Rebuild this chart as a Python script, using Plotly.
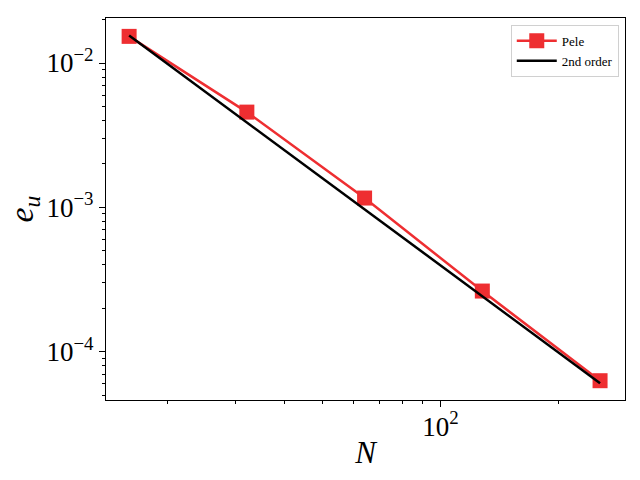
import plotly.graph_objects as go

# Grid resolution and errors
n_points = [16, 32, 64, 128, 256]
pele_err = [1.53e-2, 4.57e-3, 1.16e-3, 2.63e-4, 6.29e-5]
second_order = [1.55e-2, 3.875e-3, 9.69e-4, 2.42e-4, 6.05e-5]

x_tickvals = [100]
x_ticktext = ["10<sup>2</sup>"]
y_tickvals = [1e-2, 1e-3, 1e-4]
y_ticktext = ["10<sup>\u22122</sup>", "10<sup>\u22123</sup>", "10<sup>\u22124</sup>"]

RED = "#ee2e31"
FONT = "Liberation Serif"


def main():
    fig = go.Figure()

    fig.add_trace(go.Scatter(
        x=n_points, y=pele_err,
        mode="lines+markers",
        name="Pele",
        line=dict(color=RED, width=2.5),
        marker=dict(symbol="square", size=15, color=RED),
    ))
    fig.add_trace(go.Scatter(
        x=n_points, y=second_order,
        mode="lines",
        name="2nd order",
        line=dict(color="black", width=2.5),
    ))

    axis_common = dict(
        type="log",
        showline=True, linecolor="black", linewidth=1.2, mirror=True,
        ticks="outside", ticklen=6, tickwidth=1, tickcolor="black",
        showgrid=False, zeroline=False,
        tickfont=dict(family=FONT, size=27, color="black"),
        minor=dict(ticks="outside", ticklen=3, tickwidth=0.8, tickcolor="black",
                   dtick="D1", showgrid=False),
    )

    fig.update_layout(
        width=640, height=480,
        margin=dict(l=106, r=15, t=18, b=80),
        paper_bgcolor="white", plot_bgcolor="white",
        font=dict(family=FONT, color="black"),
        showlegend=True,
        legend=dict(
            x=0.988, y=0.982, xanchor="right", yanchor="top",
            bgcolor="white", bordercolor="#d0d0d0", borderwidth=1,
            font=dict(family=FONT, size=13, color="black"),
            tracegroupgap=0, itemwidth=40,
        ),
    )
    fig.update_xaxes(
        **axis_common,
        range=[1.145, 2.472],
        tickmode="array", tickvals=x_tickvals, ticktext=x_ticktext,
        ticklabelstandoff=-4,
        title=dict(text="<i>N</i>", font=dict(family=FONT, size=31), standoff=0),
    )
    fig.update_yaxes(
        **axis_common,
        range=[-4.335, -1.688],
        tickmode="array", tickvals=y_tickvals, ticktext=y_ticktext,
        title=dict(text="<i>e<sub>u</sub></i>", font=dict(family=FONT, size=34), standoff=2),
    )

    # drop the page margin so the 640x480 figure sits at the window origin
    fig.write_html(
        "out.html",
        config={"displayModeBar": False},
        post_script="document.body.style.margin='0';",
    )


if __name__ == "__main__":
    main()
